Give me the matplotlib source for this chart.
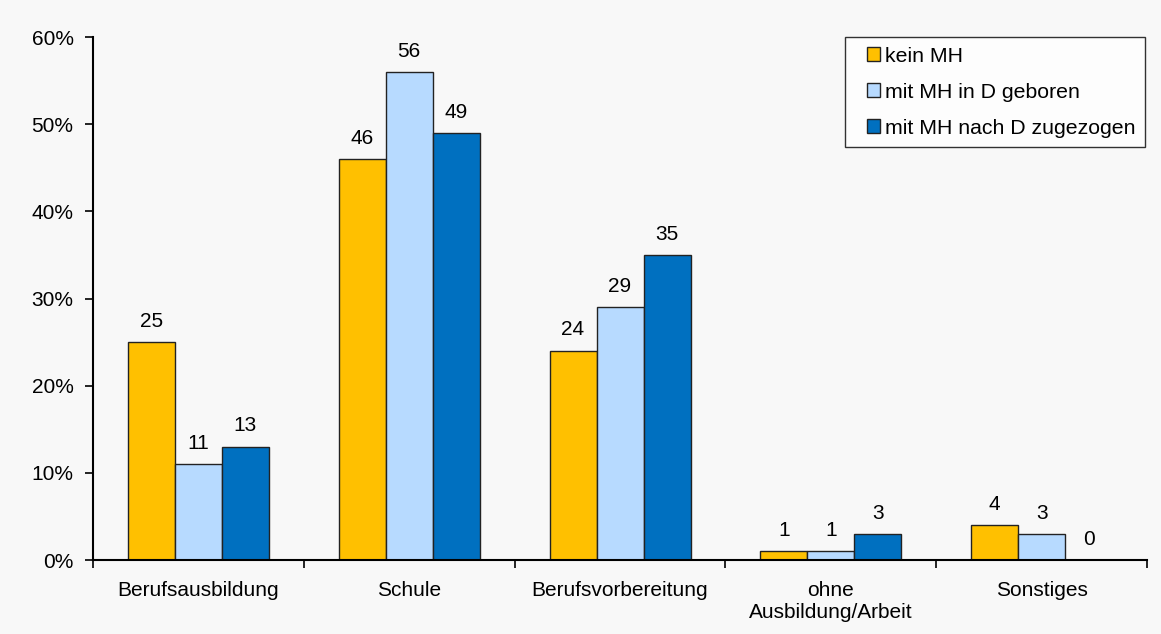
import numpy as np
import matplotlib.pyplot as plt
from matplotlib.patches import Rectangle
from matplotlib.container import BarContainer
from matplotlib.legend_handler import HandlerPatch
from matplotlib.ticker import FixedLocator, NullFormatter

plt.rcParams["font.family"] = ["Liberation Sans", "DejaVu Sans"]

categories = ["Berufsausbildung", "Schule", "Berufsvorbereitung",
              "ohne\nAusbildung/Arbeit", "Sonstiges"]
series = ["kein MH", "mit MH in D geboren", "mit MH nach D zugezogen"]
kein_mh = [25, 46, 24, 1, 4]
mh_geboren = [11, 56, 29, 1, 3]
mh_zugezogen = [13, 49, 35, 3, 0]

colors = ["#FFC000", "#B7DAFF", "#0070C0"]
fs = 15

fig = plt.figure(figsize=(11.61, 6.34), dpi=100, facecolor="#f8f8f8")
ax = fig.add_axes([0.0801, 0.1167, 0.9079, 0.8249])
ax.set_facecolor("#f8f8f8")

x = np.arange(len(categories))
width = 0.223
for i, (name, vals) in enumerate(zip(series, [kein_mh, mh_geboren, mh_zugezogen])):
    pos = x + (i - 1) * width
    ax.bar(pos, vals, width, color=colors[i], edgecolor="#222222",
           linewidth=1.0, label=name, zorder=2)
    for p, v in zip(pos, vals):
        ax.text(p, v + 1.3, str(v), ha="center", va="bottom", fontsize=fs)

ax.set_xlim(-0.5, len(categories) - 0.5)
ax.set_ylim(0, 60)
ax.set_yticks(np.arange(0, 61, 10))
ax.set_yticklabels([f"{t}%" for t in range(0, 61, 10)], fontsize=fs)

ax.xaxis.set_major_locator(FixedLocator(np.arange(-0.5, len(categories), 1)))
ax.xaxis.set_major_formatter(NullFormatter())
ax.xaxis.set_minor_locator(FixedLocator(x))
ax.set_xticklabels(categories, minor=True, fontsize=fs)
ax.tick_params(axis="x", which="minor", length=0, pad=15)
ax.tick_params(axis="x", which="major", length=6, width=1.2, direction="out")
ax.tick_params(axis="y", length=6, width=1.2, direction="out", pad=8)

ax.spines["top"].set_visible(False)
ax.spines["right"].set_visible(False)
ax.spines["left"].set_linewidth(1.5)
ax.spines["bottom"].set_linewidth(1.5)


# small square handle sitting at the right end of the handle area
def square_patch(legend, orig_handle, xdescent, ydescent, width, height, fontsize):
    return Rectangle((width - height - xdescent, -ydescent), height, height)


def from_first_bar(tgt, src):
    tgt.update_from(src.patches[0])


handler = HandlerPatch(patch_func=square_patch, update_func=from_first_bar)

leg = ax.legend(loc="upper right", bbox_to_anchor=(0.9985, 1.0), fontsize=15.3,
                frameon=True, fancybox=False, edgecolor="black",
                handlelength=1.2, handleheight=0.6, handletextpad=0.25,
                labelspacing=0.8, borderpad=0.45, borderaxespad=0,
                handler_map={BarContainer: handler})
leg.get_frame().set_linewidth(1.0)
leg.get_frame().set_facecolor("white")

plt.savefig("out.png", dpi=100, facecolor=fig.get_facecolor())
